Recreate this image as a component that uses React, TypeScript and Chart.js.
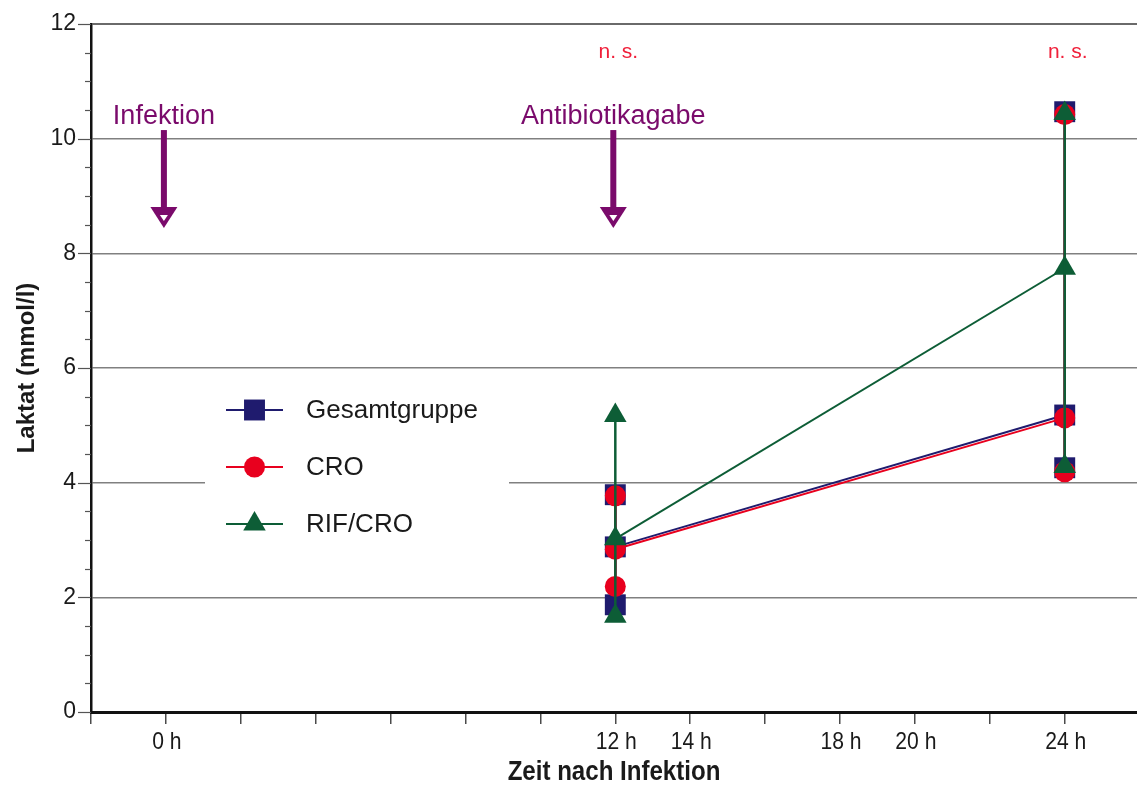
import React, { useEffect, useRef } from "react";
import { Chart, registerables } from "chart.js";

Chart.register(...registerables);

// ---- data ----
const timePoints = [12, 24];
const seriesNames = ["Gesamtgruppe", "CRO", "RIF/CRO"];
const gesamtMean = [2.88, 5.18];
const gesamtLow = [1.87, 4.26];
const gesamtHigh = [3.79, 10.47];
const croMean = [2.84, 5.13];
const croLow = [2.19, 4.19];
const croHigh = [3.77, 10.42];
const rifMean = [3.02, 7.74];
const rifLow = [1.67, 4.28];
const rifHigh = [5.17, 10.44];
const xLabelledTicks = [0, 12, 14, 18, 20, 24];
const yLabelledTicks = [0, 2, 4, 6, 8, 10, 12];
const xTitle = "Zeit nach Infektion";
const yTitle = "Laktat (mmol/l)";
const eventTimes = [0, 12];
const eventLabels = ["Infektion", "Antibiotikagabe"];
const sigTimes = [12, 24];
const sigLabels = ["n. s.", "n. s."];

// ---- styles ----
const NAVY = "#1f1b6e";
const RED = "#e8001e";
const GREEN = "#0d5d36";
const PURPLE = "#7a0a6b";
const SANS = "'Liberation Sans', Arial, Helvetica, sans-serif";

type Series = { name: string; mean: number[]; low: number[]; high: number[]; color: string; style: string; radius: number; order: number };
const series: Series[] = [
  { name: seriesNames[0], mean: gesamtMean, low: gesamtLow, high: gesamtHigh, color: NAVY, style: "rect", radius: 14.8, order: 2 },
  { name: seriesNames[1], mean: croMean, low: croLow, high: croHigh, color: RED, style: "circle", radius: 10.5, order: 1 },
  { name: seriesNames[2], mean: rifMean, low: rifLow, high: rifHigh, color: GREEN, style: "triangle", radius: 13, order: 0 },
];

function drawMarker(ctx: CanvasRenderingContext2D, style: string, x: number, y: number, r: number, color: string) {
  ctx.save();
  ctx.fillStyle = color;
  ctx.beginPath();
  if (style === "rect") {
    const s = Math.SQRT1_2 * r;
    ctx.rect(x - s, y - s, 2 * s, 2 * s);
  } else if (style === "circle") {
    ctx.arc(x, y, r, 0, Math.PI * 2);
  } else {
    ctx.moveTo(x, y - r);
    ctx.lineTo(x + r * Math.sin((2 * Math.PI) / 3), y + r * 0.5);
    ctx.lineTo(x - r * Math.sin((2 * Math.PI) / 3), y + r * 0.5);
    ctx.closePath();
  }
  ctx.fill();
  ctx.restore();
}

function narrowText(ctx: CanvasRenderingContext2D, text: string, x: number, y: number, font: string, sx: number, color: string) {
  ctx.save();
  ctx.translate(x, y);
  ctx.scale(sx, 1);
  ctx.font = font;
  ctx.fillStyle = color;
  ctx.textAlign = "center";
  ctx.textBaseline = "middle";
  ctx.fillText(text, 0, 0);
  ctx.restore();
}

const overlayPlugin = {
  id: "overlay",
  afterDraw(chart: any) {
    const ctx: CanvasRenderingContext2D = chart.ctx;
    const xs = chart.scales.x;
    const ys = chart.scales.y;
    const area = chart.chartArea;

    // y-axis tick marks (major + minor)
    ctx.save();
    ctx.strokeStyle = "#555";
    ctx.lineWidth = 1.2;
    for (let v = 0; v <= 12.001; v += 0.5) {
      const py = Math.round(ys.getPixelForValue(v)) + 0.5;
      const len = Math.abs(v % 2) < 1e-6 ? 13 : 6;
      ctx.beginPath();
      ctx.moveTo(area.left - len, py);
      ctx.lineTo(area.left, py);
      ctx.stroke();
    }
    ctx.restore();

    // x tick labels and title (condensed Helvetica look)
    xLabelledTicks.forEach((t) => {
      narrowText(ctx, `${t} h`, xs.getPixelForValue(t) + 1, area.bottom + 30, `24px ${SANS}`, 0.88, "#1a1a1a");
    });
    narrowText(ctx, xTitle, (area.left + area.right) / 2, area.bottom + 60, `bold 28px ${SANS}`, 0.86, "#1a1a1a");

    // legend
    ctx.save();
    ctx.fillStyle = "#fff";
    ctx.fillRect(205, 382, 304, 166);
    series.forEach((s, i) => {
      const cy = 410 + i * 57;
      ctx.strokeStyle = s.color;
      ctx.lineWidth = 2;
      ctx.beginPath();
      ctx.moveTo(226, cy);
      ctx.lineTo(283, cy);
      ctx.stroke();
      drawMarker(ctx, s.style, 254.5, cy, s.radius, s.color);
      ctx.fillStyle = "#1a1a1a";
      ctx.font = `26px ${SANS}`;
      ctx.textAlign = "left";
      ctx.textBaseline = "middle";
      ctx.fillText(s.name, 306, cy + 1);
    });
    ctx.restore();

    // event annotations
    ctx.save();
    eventTimes.forEach((t, i) => {
      const px = xs.getPixelForValue(t) - 2;
      ctx.fillStyle = PURPLE;
      ctx.font = `27px ${SANS}`;
      ctx.textAlign = "center";
      ctx.textBaseline = "middle";
      ctx.fillText(eventLabels[i], px, ys.getPixelForValue(10.38));
      const top = ys.getPixelForValue(10.15);
      const tip = ys.getPixelForValue(8.44);
      ctx.fillRect(px - 3, top, 6, tip - top - 18);
      ctx.beginPath();
      ctx.moveTo(px - 13.5, tip - 21);
      ctx.lineTo(px + 13.5, tip - 21);
      ctx.lineTo(px, tip);
      ctx.closePath();
      ctx.fill();
      ctx.fillStyle = "#fff";
      ctx.beginPath();
      ctx.moveTo(px - 4, tip - 13);
      ctx.lineTo(px + 4, tip - 13);
      ctx.lineTo(px, tip - 7);
      ctx.closePath();
      ctx.fill();
    });

    // significance labels
    sigTimes.forEach((t, i) => {
      ctx.fillStyle = "#f0203a";
      ctx.font = `21px ${SANS}`;
      ctx.textAlign = "center";
      ctx.textBaseline = "middle";
      ctx.fillText(sigLabels[i], xs.getPixelForValue(t) + 3, ys.getPixelForValue(11.51));
    });
    ctx.restore();
  },
};

function buildDatasets() {
  const ds: any[] = [];
  series.forEach((s) => {
    const common = {
      pointStyle: s.style,
      pointRadius: s.radius,
      pointHoverRadius: s.radius,
      pointBackgroundColor: s.color,
      pointBorderWidth: 0,
      fill: false,
      tension: 0,
      order: s.order,
      label: s.name,
    };
    timePoints.forEach((t, i) => {
      ds.push({
        ...common,
        data: [
          { x: t, y: s.low[i] },
          { x: t, y: s.high[i] },
        ],
        borderColor: s.color,
        borderWidth: 2.5,
      });
    });
    ds.push({
      ...common,
      data: timePoints.map((t, i) => ({ x: t, y: s.mean[i] })),
      borderColor: s.color,
      borderWidth: 2,
    });
  });
  return ds;
}

export default function App() {
  const ref = useRef<HTMLCanvasElement | null>(null);
  useEffect(() => {
    document.body.style.margin = "0";
    const canvas = ref.current!;
    const chart = new Chart(canvas, {
      type: "line",
      data: { datasets: buildDatasets() },
      options: {
        animation: false,
        responsive: false,
        events: [],
        layout: { autoPadding: false, padding: { top: 24, left: 0, right: 0, bottom: 0 } },
        plugins: { legend: { display: false }, tooltip: { enabled: false } },
        scales: {
          x: {
            type: "linear",
            min: -2,
            max: 25.93,
            afterFit: (s: any) => {
              s.height = 75;
              s.paddingLeft = 0;
              s.paddingRight = 0;
            },
            ticks: {
              stepSize: 2,
              includeBounds: false,
              autoSkip: false,
              maxRotation: 0,
              padding: 0,
              callback: () => "",
            },
            grid: { drawOnChartArea: false, drawTicks: true, tickLength: 12, color: "#4a4a4a", lineWidth: 1.5 },
            border: { display: true, color: "#111", width: 3 },
            title: { display: false },
          },
          y: {
            type: "linear",
            min: 0,
            max: 12,
            afterFit: (s: any) => {
              s.width = 91;
              s.paddingTop = 0;
              s.paddingBottom = 0;
            },
            ticks: {
              stepSize: 0.5,
              autoSkip: false,
              padding: 15,
              color: "#1a1a1a",
              font: { family: SANS, size: 23 },
              callback: (v: any) => (yLabelledTicks.includes(Number(v)) ? String(v) : ""),
            },
            grid: {
              drawTicks: false,
              color: (c: any) => {
                const v = c.tick ? c.tick.value : -1;
                if (v === 12) return "#6a6a6a";
                if (v > 0 && Math.abs(v % 2) < 1e-6) return "#808080";
                return "rgba(0,0,0,0)";
              },
              lineWidth: (c: any) => (c.tick && c.tick.value === 12 ? 2 : 1.5),
            },
            border: { display: true, color: "#111", width: 2.5 },
            title: {
              display: true,
              text: yTitle,
              color: "#1a1a1a",
              font: { family: SANS, size: 24, weight: "bold" },
              padding: { top: 13, bottom: 0 },
            },
          },
        },
      },
      plugins: [overlayPlugin],
    } as any);
    return () => chart.destroy();
  }, []);
  return <canvas ref={ref} width={1137} height={787} style={{ display: "block" }} />;
}
